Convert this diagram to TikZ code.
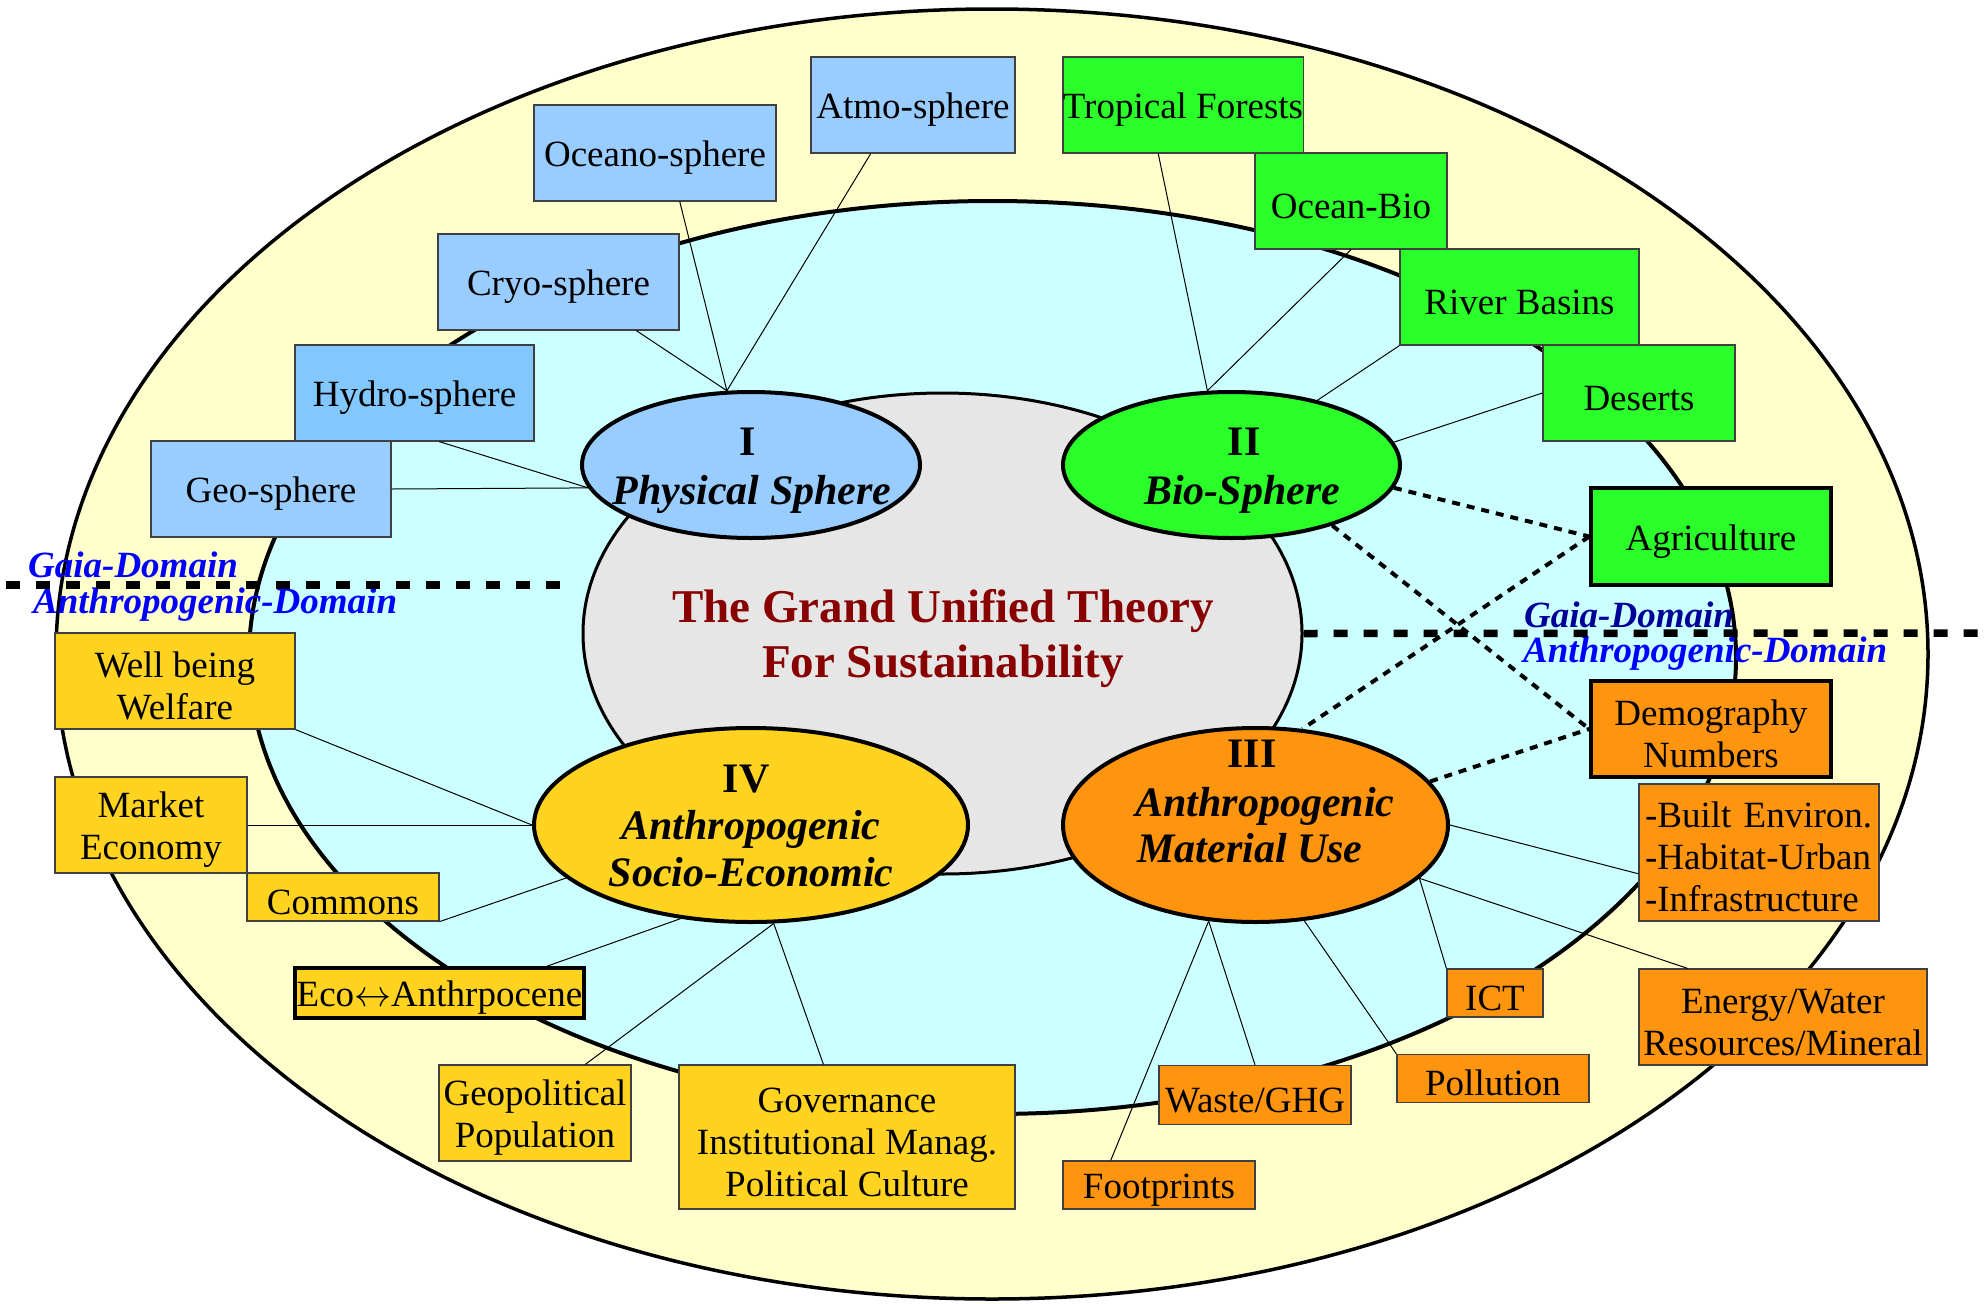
\documentclass[tikz,border=0pt]{standalone}
\usepackage{fontspec}
\setmainfont{Liberation Serif}
\usetikzlibrary{shapes.geometric}
\definecolor{bgyellow}{HTML}{FFFFCC}
\definecolor{bgcyan}{HTML}{CCFFFF}
\definecolor{bggray}{HTML}{E6E6E6}
\definecolor{physblue}{HTML}{99CCFF}
\definecolor{hydroblue}{HTML}{82C8FF}
\definecolor{biogreen}{HTML}{2AFF2A}
\definecolor{socgold}{HTML}{FFD320}
\definecolor{matorange}{HTML}{FF950E}
\definecolor{titlered}{HTML}{880000}
\definecolor{navyblue}{HTML}{000099}
\newcommand\fstrut{\rule{0pt}{35pt}}
\begin{document}
\begin{tikzpicture}[x=1pt,y=-1pt,
  box/.style={draw=black!75, line width=1.2pt, inner sep=0pt, align=center, font=\fontsize{37}{42}\selectfont},
  single/.style={text height=35pt},
  thickbox/.style={box, draw=black, line width=3.5pt},
  bgell/.style={shape=ellipse, draw=black, line width=3.5pt, inner sep=0pt},
  sph/.style={shape=ellipse, draw=black, line width=4pt, inner sep=0pt},
  sphtxt/.style={anchor=base, inner sep=0pt, font=\fontsize{42}{48}\selectfont\bfseries},
  titletxt/.style={anchor=base, inner sep=0pt, text=titlered, font=\fontsize{47}{55}\selectfont\bfseries},
  link/.style={draw=black, line width=1pt},
  dotlink/.style={draw=black, line width=4pt, dash pattern=on 8pt off 7pt},
  domline/.style={draw=black, line width=7.5pt, dash pattern=on 14pt off 16pt},
  domtxt/.style={anchor=base west, inner sep=0pt, text=blue, font=\fontsize{37}{42}\selectfont\bfseries\itshape}]
\useasboundingbox (0,0) rectangle (1987,1304);

% background ellipses
\node[bgell, fill=bgyellow, minimum width=1872pt, minimum height=1290pt] (outer) at (992,654) {};
\node[bgell, fill=bgcyan, line width=4pt, minimum width=1487pt, minimum height=913pt] (middle) at (992.5,657.5) {};
\node[bgell, fill=bggray, line width=3pt, minimum width=719pt, minimum height=481pt] (inner) at (942.5,633.5) {};

% title
\node[titletxt] (title1) at (943,622) {The Grand Unified Theory};
\node[titletxt] (title2) at (943,677) {For Sustainability};

% domain labels and boundary lines
\node[domtxt] (gaiaL) at (28,577) {Gaia-Domain};
\node[domtxt] (anthL) at (33,613) {Anthropogenic-Domain};
\node[domtxt, text=navyblue] (gaiaR) at (1524,627) {Gaia-Domain};
\node[domtxt] (anthR) at (1523,662) {Anthropogenic-Domain};
\coordinate (dlA) at (6,585);
\coordinate (dlB) at (572,585);
\coordinate (drB) at (1990,633);
\draw[domline] (dlA) -- (dlB);
\draw[domline] (inner.east) -- (drB);

% four sphere ellipses
\node[sph, fill=physblue, minimum width=338pt, minimum height=146pt] (phys) at (751,465) {};
\node[sph, fill=biogreen, minimum width=337pt, minimum height=146pt] (bio) at (1231.5,465) {};
\node[sph, fill=socgold, minimum width=434pt, minimum height=194pt] (socio) at (751,825) {};
\node[sph, fill=matorange, minimum width=385pt, minimum height=194pt] (mat) at (1255.5,825) {};

\node[sphtxt] (physA) at (748,455) {I};
\node[sphtxt] (physB) at (752,504) {\itshape Physical Sphere};
\node[sphtxt] (bioA) at (1244,455) {II};
\node[sphtxt] (bioB) at (1242,504) {\itshape Bio-Sphere};
\node[sphtxt] (socA) at (746,792) {IV};
\node[sphtxt] (socB) at (751,839) {\itshape Anthropogenic};
\node[sphtxt] (socC) at (751,886) {\itshape Socio-Economic};
\node[sphtxt] (matA) at (1252,767) {III};
\node[sphtxt] (matB) at (1265,816) {\itshape Anthropogenic};
\node[sphtxt] (matC) at (1250,862) {\itshape Material Use};

% physical sphere boxes
\node[box, single, fill=physblue, minimum width=204pt, minimum height=96pt] (atmo) at (913,105) {Atmo-sphere};
\node[box, single, fill=physblue, minimum width=242pt, minimum height=96pt] (oceano) at (655,153) {Oceano-sphere};
\node[box, single, fill=physblue, minimum width=241pt, minimum height=96pt] (cryo) at (558.5,282) {Cryo-sphere};
\node[box, single, fill=hydroblue, minimum width=239pt, minimum height=96pt] (hydro) at (414.5,393) {Hydro-sphere};
\node[box, single, fill=physblue, minimum width=240pt, minimum height=96pt] (geo) at (271,489) {Geo-sphere};

% bio sphere boxes
\node[box, single, fill=biogreen, minimum width=240pt, minimum height=96pt] (trop) at (1183,105) {Tropical Forests};
\node[box, single, fill=biogreen, minimum width=192pt, minimum height=96pt] (oceanbio) at (1351,201) {Ocean-Bio};
\node[box, single, fill=biogreen, minimum width=239pt, minimum height=96pt] (river) at (1519.5,297) {River Basins};
\node[box, single, fill=biogreen, minimum width=192pt, minimum height=96pt] (deserts) at (1639,393) {Deserts};
\node[thickbox, single, fill=biogreen, minimum width=240pt, minimum height=97pt] (agri) at (1711,536.5) {Agriculture};

% material use boxes
\node[thickbox, fill=matorange, minimum width=240pt, minimum height=96pt] (demog) at (1711,729) {\fstrut Demography\\Numbers};
\node[box, fill=matorange, minimum width=240pt, minimum height=137pt, text width=228pt, align=left] (built) at (1759,852.5) {\fstrut -Built Environ.\\-Habitat-Urban\\-Infrastructure};
\node[box, fill=matorange, minimum width=288pt, minimum height=96pt] (energy) at (1783,1017) {\fstrut Energy/Water\\Resources/Mineral};
\node[box, single, fill=matorange, minimum width=96pt, minimum height=48pt] (ict) at (1495,993) {ICT};
\node[box, single, fill=matorange, minimum width=192pt, minimum height=48pt] (pollution) at (1493,1078.5) {Pollution};
\node[box, single, fill=matorange, minimum width=192pt, minimum height=59pt] (waste) at (1255,1095) {Waste/GHG};
\node[box, single, fill=matorange, minimum width=192pt, minimum height=48pt] (footprints) at (1159,1185) {Footprints};

% socio-economic boxes
\node[box, fill=socgold, minimum width=240pt, minimum height=96pt] (wellbeing) at (175,681) {\fstrut Well being\\Welfare};
\node[box, fill=socgold, minimum width=192pt, minimum height=96pt] (market) at (151,825) {\fstrut Market\\Economy};
\node[box, single, fill=socgold, minimum width=192pt, minimum height=48pt] (commons) at (343,897) {Commons};
\node[thickbox, single, fill=socgold, minimum width=289pt, minimum height=50pt] (eco) at (439.5,993) {Eco\scalebox{1.487}{$\leftrightarrow$}Anthrpocene};
\node[box, fill=socgold, minimum width=192pt, minimum height=96pt] (geopol) at (535,1113) {\fstrut Geopolitical\\Population};
\node[box, fill=socgold, minimum width=336pt, minimum height=144pt] (govern) at (847,1137) {\fstrut Governance\\Institutional Manag.\\Political Culture};

% connectors: physical sphere
\draw[link] (atmo.-131.2) -- (phys.108.2);
\draw[link] (oceano.-63.4) -- (phys.108.2);
\draw[link] (cryo.-32.8) -- (phys.108.2);
\draw[link] (hydro.-63) -- (phys.188);
\draw[link] (geo.east) -- (phys.188);

% connectors: bio sphere
\draw[link] (trop.-117) -- (bio.108.2);
\draw[link] (oceanbio.south) -- (bio.108.2);
\draw[link] (river.south west) -- (bio.37.9);
\draw[link] (deserts.west) -- (bio.8.1);

% dotted links
\draw[dotlink] (bio.-8.1) -- (agri.west);
\draw[dotlink] (bio.-31.3) -- (demog.west);
\draw[dotlink] (agri.west) -- (mat.64.6);
\draw[dotlink] (mat.14.3) -- (demog.west);

% connectors: material use
\draw[link] (built.-170.8) -- (mat.east);
\draw[link] (energy.153.7) -- (mat.-18.4);
\draw[link] (ict.north west) -- (mat.-18.4);
\draw[link] (pollution.north west) -- (mat.-63.7);
\draw[link] (waste.north) -- (mat.-116.6);
\draw[link] (footprints.153.4) -- (mat.-116.6);

% connectors: socio-economic
\draw[link] (wellbeing.south east) -- (socio.west);
\draw[link] (market.east) -- (socio.west);
\draw[link] (commons.south east) -- (socio.196);
\draw[link] (eco.14.1) -- (socio.233.1);
\draw[link] (geopol.44.7) -- (socio.283.9);
\draw[link] (govern.108.4) -- (socio.283.9);
\end{tikzpicture}
\end{document}
